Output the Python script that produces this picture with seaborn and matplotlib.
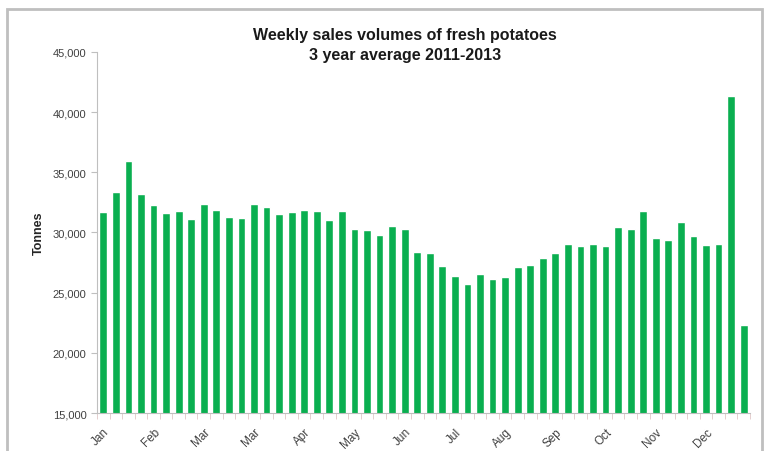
import numpy as np
import pandas as pd
import matplotlib
matplotlib.use('Agg')
import matplotlib.pyplot as plt
import seaborn as sns
from matplotlib.patches import Rectangle
from matplotlib.ticker import FuncFormatter, FixedLocator

# weekly volumes (tonnes), 52 weeks
weeks = list(range(1, 53))
tonnes = [31700, 33400, 35950, 33200, 32250, 31600, 31800, 31100, 32400, 31900,
          31270, 31200, 32350, 32100, 31500, 31700, 31850, 31750, 31050, 31770,
          30300, 30200, 29820, 30570, 30320, 28360, 28300, 27250, 26400, 25680,
          26550, 26170, 26280, 27110, 27330, 27850, 28270, 29020, 28880, 29050,
          28860, 30430, 30300, 31820, 29550, 29380, 30900, 29690, 28940, 29020,
          41300, 22350]
month_labels = ['Jan', 'Feb', 'Mar', 'Mar', 'Apr', 'May', 'Jun', 'Jul',
                'Aug', 'Sep', 'Oct', 'Nov', 'Dec']

df = pd.DataFrame({'week': weeks, 'tonnes': tonnes})

sns.set_style('white')
plt.rcParams['font.family'] = ['Liberation Sans', 'DejaVu Sans']

fig = plt.figure(figsize=(7.7, 4.52), dpi=100)
ax = fig.add_axes([0.126, 0.084, 0.848, 0.799])

sns.barplot(data=df, x='week', y='tonnes', color='#0AAF50', width=0.62,
            saturation=1, ax=ax)

ax.set_ylim(15000, 45000)
ax.set_xlim(-0.5, len(weeks) - 0.5)
ax.set_yticks(range(15000, 45001, 5000))
ax.yaxis.set_major_formatter(FuncFormatter(lambda v, p: f'{int(v):,}'))
ax.tick_params(axis='y', labelsize=8, colors='#404040', length=4,
               color='#BFBFBF', left=True)

ax.set_xticks(range(0, 52, 4))
ax.set_xticklabels(month_labels, rotation=45, ha='right',
                   rotation_mode='anchor', fontsize=8.5, color='#404040')
ax.tick_params(axis='x', which='major', length=0, pad=9)
ax.xaxis.set_minor_locator(FixedLocator(np.arange(-0.5, 52, 1)))
ax.tick_params(axis='x', which='minor', length=4, color='#E0C8C8', bottom=True)

ax.set_xlabel('')
ax.set_ylabel('Tonnes', fontsize=9, fontweight='bold', labelpad=6)

for s in ['top', 'right']:
    ax.spines[s].set_visible(False)
for s in ['left', 'bottom']:
    ax.spines[s].set_color('#BFBFBF')
    ax.spines[s].set_linewidth(0.8)

fig.text(0.526, 0.90, 'Weekly sales volumes of fresh potatoes\n3 year average 2011-2013',
         ha='center', va='center', fontsize=11.5, fontweight='bold',
         color='#1a1a1a', linespacing=1.4)

# outer chart frame
fig.patches.append(Rectangle((7 / 770, -0.05), 755 / 770, 1.05 - 10 / 452,
                             transform=fig.transFigure, fill=False,
                             edgecolor='#BFBFBF', linewidth=2))

fig.savefig('out.png', dpi=100)
